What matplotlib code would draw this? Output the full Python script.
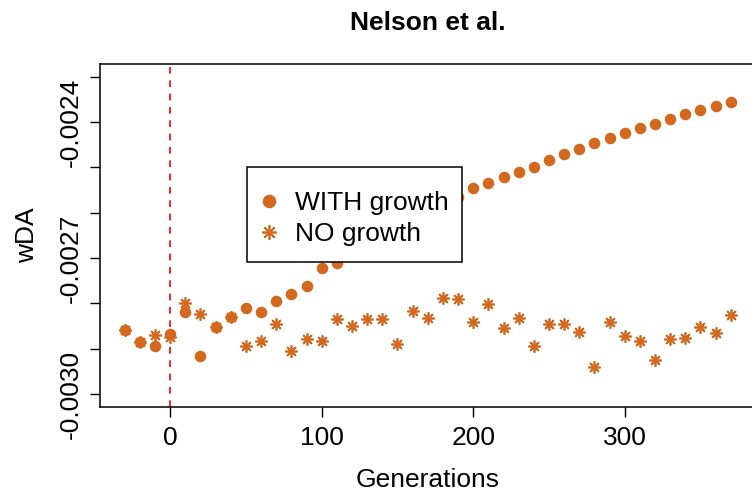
import matplotlib
matplotlib.use("Agg")
import matplotlib.pyplot as plt
from matplotlib.patches import Rectangle
from matplotlib.ticker import FixedLocator, FixedFormatter

plt.rcParams['font.family'] = ['Liberation Sans', 'DejaVu Sans']

generations = [-30, -20, -10, 0, 10, 20, 30, 40, 50, 60, 70, 80, 90, 100,
               110, 120, 130, 140, 150, 160, 170, 180, 190, 200, 210, 220,
               230, 240, 250, 260, 270, 280, 290, 300, 310, 320, 330, 340,
               350, 360, 370]

with_growth = [-0.0028592, -0.0028850, -0.0028938, -0.0028680, -0.0028188,
               -0.0029166, -0.0028532, -0.0028311, -0.0028099, -0.0028201,
               -0.0027945, -0.0027804, -0.0027620, -0.0027230, -0.0027119,
               -0.0026936, -0.0026737, -0.0026561, -0.0026362, -0.0026185,
               -0.0026009, -0.0025832, -0.0025649, -0.0025464, -0.0025340,
               -0.0025208, -0.0025110, -0.0024987, -0.0024839, -0.0024713,
               -0.0024596, -0.0024470, -0.0024360, -0.0024249, -0.0024139,
               -0.0024051, -0.0023940, -0.0023830, -0.0023735, -0.0023640,
               -0.0023552]

no_growth = [-0.0028592, -0.0028850, -0.0028702, -0.0028740, -0.0028002,
             -0.0028245, -0.0028532, -0.0028311, -0.0028945, -0.0028834,
             -0.0028466, -0.0029049, -0.0028797, -0.0028834, -0.0028349,
             -0.0028497, -0.0028355, -0.0028349, -0.0028894, -0.0028172,
             -0.0028333, -0.0027879, -0.0027914, -0.0028408, -0.0028024,
             -0.0028554, -0.0028320, -0.0028938, -0.0028466, -0.0028459,
             -0.0028629, -0.0029402, -0.0028408, -0.0028717, -0.0028828,
             -0.0029254, -0.0028790, -0.0028775, -0.0028519, -0.0028664,
             -0.0028260]

y_ticks = [-0.0030, -0.0029, -0.0028, -0.0027, -0.0026, -0.0025, -0.0024, -0.0023]
y_tick_labels = ['-0.0030', '', '', '-0.0027', '', '', '-0.0024', '']
x_ticks = [0, 100, 200, 300]

col = '#D2691E'
fs = 19
W, H = 752, 497

fig = plt.figure(figsize=(7.52, 4.97), dpi=100)
ax_l, ax_r, ax_t, ax_b = 100.5, 755, 64, 406.7
ax = fig.add_axes([ax_l / W, 1 - ax_b / H, (ax_r - ax_l) / W, (ax_b - ax_t) / H])

def to_axes(px, py):
    return (px - ax_l) / (ax_r - ax_l), (ax_b - py) / (ax_b - ax_t)

ax.axvline(0, color='red', linestyle=(0, (4, 4)), linewidth=1.2, zorder=1)
ax.plot(generations, with_growth, linestyle='none', marker='o', markersize=7.3,
        color=col, label='WITH growth', zorder=2)
ax.plot(generations, no_growth, linestyle='none', marker=(8, 2, 0), markersize=8.8,
        markeredgewidth=1.25, color=col, label='NO growth', zorder=2)

ax.set_xlim(-46, 386)
ax.set_ylim(-0.003028, -0.002272)

ax.xaxis.set_major_locator(FixedLocator(x_ticks))
ax.yaxis.set_major_locator(FixedLocator(y_ticks))
ax.yaxis.set_major_formatter(FixedFormatter(y_tick_labels))
ax.tick_params(axis='both', direction='out', length=7, width=1, labelsize=fs)
ax.tick_params(axis='x', pad=7)
ax.tick_params(axis='y', pad=6)
for lbl in ax.get_yticklabels():
    lbl.set_rotation(90)
    lbl.set_va('center')

for s in ax.spines.values():
    s.set_linewidth(1.1)

ax.set_xlabel('Generations', fontsize=fs, labelpad=13)
ax.set_ylabel('wDA', fontsize=fs, labelpad=14)
fig.text(428 / W, 1 - 23 / H, 'Nelson et al.', fontsize=fs, fontweight='bold',
         ha='center', va='center')

# legend box drawn separately so the padding can match
x0, y0 = to_axes(247, 262)
x1, y1 = to_axes(462, 167)
ax.add_patch(Rectangle((x0, y0), x1 - x0, y1 - y0, transform=ax.transAxes,
                       facecolor='white', edgecolor='black', linewidth=1.1, zorder=4))
lx, ly = to_axes(258, 191)
leg = ax.legend(loc='upper left', bbox_to_anchor=(lx, ly), fontsize=fs,
                frameon=False, borderpad=0, handletextpad=0.6, labelspacing=0.28,
                handlelength=0.8, borderaxespad=0, markerscale=1.2)
leg.set_zorder(5)

fig.savefig('out.png', dpi=100)
plt.close()
